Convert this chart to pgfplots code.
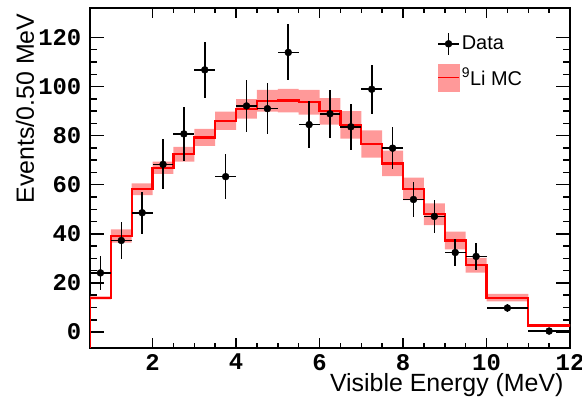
\documentclass[border=0pt]{standalone}
\usepackage{fontspec}
\setmainfont{Liberation Sans}
\newfontfamily\tickfont{Liberation Mono}
\usepackage{pgfplots}
\pgfplotsset{compat=1.18}
\usepgfplotslibrary{fillbetween}
\usepackage{pgfplotstable}
\definecolor{mcband}{HTML}{FF9999}

\pgfplotstableread{
x y ex ey
0.75 24.1 0.25 7.0
1.25 37.3 0.25 7.7
1.75 48.6 0.25 8.6
2.25 68.3 0.25 10.2
2.75 80.7 0.25 10.9
3.25 106.8 0.25 11.5
3.75 63.3 0.25 9.2
4.25 92.1 0.25 10.7
4.75 91.0 0.25 10.4
5.25 113.9 0.25 11.4
5.75 84.5 0.25 9.7
6.25 88.9 0.25 9.8
6.75 83.6 0.25 9.3
7.25 98.9 0.25 9.9
7.75 74.9 0.25 8.6
8.25 54.0 0.25 7.2
8.75 47.1 0.25 6.6
9.25 32.4 0.25 5.5
9.75 30.8 0.25 5.4
10.5 9.8 0.5 1.8
11.5 0.4 0.5 0.6
}\datatab

\pgfplotstableread{
x y
0.5 -8
0.5 13.9
1.0 39.1
1.5 58.2
2.0 66.9
2.5 72.4
3.0 79.3
3.5 86.1
4.0 90.9
4.5 94.2
5.0 94.3
5.5 93.6
6.0 89.9
6.5 84.4
7.0 76.6
7.5 68.7
8.0 58.3
8.5 48.0
9.0 37.3
9.5 27.2
10.0 14.0
11.0 2.7
12.0 2.7
}\mcline

\pgfplotstableread{
x lo hi
0.5 13.3 14.5
1.0 36.4 41.8
1.5 55.8 60.6
2.0 64.4 69.4
2.5 69.4 75.4
3.0 75.8 82.8
3.5 82.4 89.8
4.0 86.9 94.9
4.5 89.8 98.6
5.0 89.5 99.1
5.5 88.6 98.6
6.0 84.5 95.3
6.5 78.8 90.0
7.0 71.0 82.2
7.5 63.5 73.9
8.0 53.7 62.9
8.5 43.6 52.4
9.0 33.7 40.9
9.5 24.2 30.2
10.0 12.5 15.5
11.0 2.2 3.2
12.0 2.2 3.2
}\mcband

\begin{document}
\begin{tikzpicture}
\begin{axis}[
  scale only axis, width=480bp, height=340bp,
  xmin=0.5, xmax=12, ymin=-6.5, ymax=132,
  xtick={2,4,...,12}, ytick={0,20,...,120},
  minor x tick num=3, minor y tick num=3,
  tick align=inside,
  axis line style={line width=2.2bp},
  tick style={black, line width=1.5bp},
  major tick length=12bp, minor tick length=6bp,
  xtick style={/pgfplots/major tick length=10bp, /pgfplots/minor tick length=5bp},
  ytick style={/pgfplots/major tick length=14bp, /pgfplots/minor tick length=7bp},
  /pgf/number format/assume math mode=true,
  xticklabel style={font=\tickfont\bfseries\fontsize{24}{24}\selectfont, inner sep=0pt, anchor=north, yshift=-6bp},
  yticklabel style={font=\tickfont\bfseries\fontsize{24}{24}\selectfont, inner sep=0pt, anchor=east, xshift=-8.5bp},
  xlabel={Visible Energy (MeV)},
  ylabel={Events/0.50 MeV},
  every axis x label/.style={at={([xshift=-3bp,yshift=-43bp]rel axis cs:1,0)}, anchor=base east, font=\fontsize{25}{30}\selectfont},
  every axis y label/.style={at={([xshift=-56bp,yshift=-2bp]rel axis cs:0,1)}, rotate=90, anchor=base east, font=\fontsize{25}{30}\selectfont},
  legend style={at={(rel axis cs:0.723,0.93)}, anchor=north west, draw=none, fill=none, inner sep=0pt, row sep=8bp, font=\fontsize{20}{24}\selectfont, nodes={inner sep=2bp}},
  legend cell align=left,
]
\addplot[name path=U, draw=none, forget plot, const plot mark left] table[x=x,y=hi]{\mcband};
\addplot[name path=L, draw=none, forget plot, const plot mark left] table[x=x,y=lo]{\mcband};
\addplot[mcband, draw=none, forget plot] fill between[of=U and L];
\addplot[red, line width=2.3bp, const plot mark left, forget plot] table[x=x,y=y]{\mcline};
\addplot[black, only marks, mark=*, mark size=3.5bp, forget plot,
  error bars/.cd, x dir=both, x explicit, y dir=both, y explicit, error mark=none,
  error bar style={line width=1.6bp, black}]
  table[x=x, y=y, x error=ex, y error=ey]{\datatab};
\addlegendimage{legend image code/.code={\draw[black,line width=1.6bp] (0bp,0bp)--(21bp,0bp) (10.5bp,-11bp)--(10.5bp,11bp); \fill[black] (10.5bp,0bp) circle (3.5bp);}}
\addlegendentry{Data}
\addlegendimage{legend image code/.code={\fill[mcband] (0bp,-13.5bp) rectangle (21bp,13.5bp); \draw[red,line width=1.5bp] (0bp,0bp)--(21bp,0bp);}}
\addlegendentry{\textsuperscript{9}Li MC}
\end{axis}
\pgfresetboundingbox
\path ([xshift=-90bp,yshift=-61bp]current axis.south west) rectangle ([xshift=12bp,yshift=8bp]current axis.north east);
\end{tikzpicture}
\end{document}
